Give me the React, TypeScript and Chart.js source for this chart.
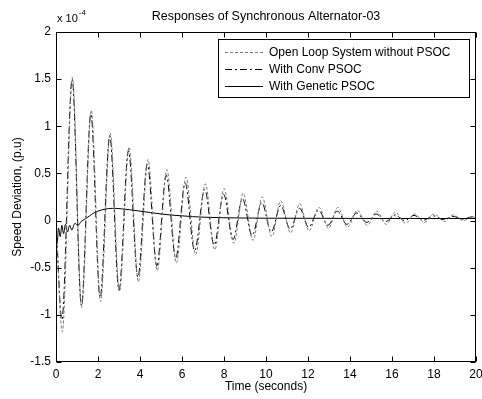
import React, { useEffect, useRef } from "react";
import { Chart, registerables } from "chart.js";
Chart.register(...registerables);

const FONT = '"Liberation Sans", Arial, Helvetica, sans-serif';

const chartTitle = "Responses of Synchronous Alternator-03";
const xTitle = "Time (seconds)";
const yTitle = "Speed Deviation, (p.u)";
const seriesNames = ["Open Loop System without PSOC", "With Conv PSOC", "With Genetic PSOC"];

const xTicks = [0, 2, 4, 6, 8, 10, 12, 14, 16, 18, 20];
const yTicks = [-1.5, -1, -0.5, 0, 0.5, 1, 1.5, 2];

// Open loop (grey dotted) – extremes (units of 1e-4)
const openT = [0, 0.3, 0.78, 1.22, 1.68, 2.12, 2.58, 3.02, 3.48, 3.92, 4.38, 4.82, 5.28, 5.73, 6.19, 6.65, 7.11, 7.56, 8.0, 8.47, 8.91, 9.38, 9.82, 10.28, 10.7, 11.17, 11.6, 12.05, 12.52, 12.98, 13.42, 13.88, 14.35, 14.82, 15.28, 15.72, 16.15, 16.65, 17.07, 17.55, 18.0, 18.5, 18.92, 19.4, 19.85, 20];
const openV = [0, -1.18, 1.52, -0.92, 1.17, -0.86, 0.93, -0.75, 0.78, -0.65, 0.65, -0.53, 0.54, -0.45, 0.46, -0.36, 0.39, -0.31, 0.34, -0.24, 0.29, -0.21, 0.25, -0.17, 0.21, -0.13, 0.18, -0.11, 0.14, -0.08, 0.14, -0.07, 0.11, -0.05, 0.1, -0.04, 0.09, -0.03, 0.07, -0.02, 0.07, -0.01, 0.06, 0.0, 0.04, 0.02];

// Conventional PSOC (black dash-dot)
const convT = [0, 0.28, 0.77, 1.21, 1.66, 2.1, 2.56, 3.0, 3.45, 3.9, 4.35, 4.8, 5.25, 5.7, 6.15, 6.6, 7.08, 7.53, 7.98, 8.43, 8.88, 9.34, 9.8, 10.25, 10.7, 11.15, 11.6, 12.03, 12.5, 12.95, 13.4, 13.85, 14.32, 14.8, 15.25, 15.7, 16.15, 16.6, 17.05, 17.5, 17.98, 18.45, 18.9, 19.38, 19.83, 20];
const convV = [0, -1.05, 1.5, -0.9, 1.13, -0.82, 0.9, -0.74, 0.74, -0.6, 0.6, -0.48, 0.48, -0.4, 0.4, -0.32, 0.33, -0.26, 0.28, -0.2, 0.23, -0.16, 0.19, -0.12, 0.16, -0.09, 0.13, -0.07, 0.11, -0.05, 0.1, -0.04, 0.08, -0.02, 0.07, -0.01, 0.06, 0.0, 0.055, 0.005, 0.05, 0.01, 0.045, 0.015, 0.04, 0.03];

// Genetic PSOC (solid black)
const genT = [0, 0.05, 0.12, 0.2, 0.28, 0.36, 0.45, 0.55, 0.65, 0.75, 0.9, 1.05, 1.2, 1.4, 1.6, 1.8, 2.0, 2.3, 2.7, 3.1, 3.5, 4.0, 4.5, 5.0, 5.5, 6.0, 6.5, 7.0, 8.0, 9.0, 10, 12, 14, 16, 18, 20];
const genV = [0, -0.25, -0.08, -0.17, -0.05, -0.14, -0.04, -0.12, -0.05, -0.1, -0.03, -0.05, -0.01, 0.02, 0.05, 0.08, 0.1, 0.12, 0.13, 0.125, 0.115, 0.1, 0.085, 0.07, 0.058, 0.05, 0.042, 0.036, 0.03, 0.027, 0.025, 0.024, 0.023, 0.022, 0.022, 0.022];

const toPts = (t: number[], v: number[]) => t.map((x, i) => ({ x, y: v[i] }));

const styles = [
  { color: "#777777", dash: [3, 2] },
  { color: "#000000", dash: [7, 3, 2, 3] },
  { color: "#000000", dash: [] as number[] },
];

const matlabPlugin = {
  id: "matlab",
  afterDraw(chart: any) {
    const ctx = chart.ctx as CanvasRenderingContext2D;
    const a = chart.chartArea;
    const xs = chart.scales.x;
    const ys = chart.scales.y;
    ctx.save();
    ctx.strokeStyle = "#000";
    ctx.lineWidth = 1;
    ctx.setLineDash([]);
    const L = Math.round(a.left) + 0.5, R = Math.round(a.right) - 0.5;
    const T = Math.round(a.top) + 0.5, B = Math.round(a.bottom) - 0.5;
    ctx.strokeRect(L, T, R - L, B - T);
    ctx.beginPath();
    for (const v of xTicks) {
      const px = Math.round(xs.getPixelForValue(v)) + 0.5;
      ctx.moveTo(px, B); ctx.lineTo(px, B - 5);
      ctx.moveTo(px, T); ctx.lineTo(px, T + 5);
    }
    for (const v of yTicks) {
      const py = Math.round(ys.getPixelForValue(v)) + 0.5;
      ctx.moveTo(L, py); ctx.lineTo(L + 5, py);
      ctx.moveTo(R, py); ctx.lineTo(R - 5, py);
    }
    ctx.stroke();

    // title
    ctx.fillStyle = "#000";
    ctx.font = `12.5px ${FONT}`;
    ctx.textAlign = "center";
    ctx.textBaseline = "middle";
    ctx.fillText(chartTitle, (a.left + a.right) / 2, 17);
    // exponent
    ctx.textAlign = "left";
    ctx.font = `11px ${FONT}`;
    ctx.fillText("x 10", 57, 19);
    const w = ctx.measureText("x 10").width;
    ctx.font = `8px ${FONT}`;
    ctx.fillText("-4", 57 + w + 1, 13);

    // legend
    const lx = 218.5, ly = 39.5, lw = 251, lh = 58;
    ctx.fillStyle = "#fff";
    ctx.fillRect(lx, ly, lw, lh);
    ctx.strokeStyle = "#000";
    ctx.strokeRect(lx, ly, lw, lh);
    ctx.font = `12px ${FONT}`;
    seriesNames.forEach((name, i) => {
      const y = Math.round(ly + 12 + i * 17) + 0.5;
      ctx.strokeStyle = styles[i].color;
      ctx.setLineDash(styles[i].dash);
      ctx.beginPath();
      ctx.moveTo(225, y);
      ctx.lineTo(263, y);
      ctx.stroke();
      ctx.setLineDash([]);
      ctx.fillStyle = "#000";
      ctx.textAlign = "left";
      ctx.textBaseline = "middle";
      ctx.fillText(name, 269, y);
    });
    ctx.restore();
  },
};

export default function App() {
  const ref = useRef<HTMLCanvasElement>(null);
  useEffect(() => {
    const series = [toPts(openT, openV), toPts(convT, convV), toPts(genT, genV)];
    const chart = new Chart(ref.current as HTMLCanvasElement, {
      type: "line",
      data: {
        datasets: series.map((d, i) => ({
          label: seriesNames[i],
          data: d,
          borderColor: styles[i].color,
          borderDash: styles[i].dash,
          borderWidth: 1,
          pointRadius: 0,
          fill: false,
          cubicInterpolationMode: "monotone" as const,
        })),
      },
      options: {
        animation: false,
        responsive: false,
        events: [],
        layout: { padding: { top: 32, right: 6, left: 0, bottom: 0 } },
        plugins: { legend: { display: false }, tooltip: { enabled: false }, title: { display: false } },
        scales: {
          x: {
            type: "linear",
            min: 0,
            max: 20,
            afterBuildTicks: (s: any) => { s.ticks = xTicks.map((value) => ({ value })); },
            afterFit: (s: any) => { s.height = 37; s.paddingLeft = 0; s.paddingRight = 0; },
            grid: { display: false, drawTicks: false },
            border: { display: false },
            ticks: { color: "#000", font: { family: FONT, size: 12 }, padding: 5, maxRotation: 0, autoSkip: false, callback: (v: any) => String(v) },
            title: { display: true, text: xTitle, color: "#000", font: { family: FONT, size: 12 }, padding: { top: 0, bottom: 5 } },
          },
          y: {
            type: "linear",
            min: -1.5,
            max: 2,
            afterBuildTicks: (s: any) => { s.ticks = yTicks.map((value) => ({ value })); },
            afterFit: (s: any) => { s.width = 56; s.paddingTop = 0; s.paddingBottom = 0; },
            grid: { display: false, drawTicks: false },
            border: { display: false },
            ticks: { color: "#000", font: { family: FONT, size: 12 }, padding: 5, autoSkip: false, callback: (v: any) => String(v) },
            title: { display: true, text: yTitle, color: "#000", font: { family: FONT, size: 12 }, padding: { top: 10, bottom: 0 } },
          },
        },
      },
      plugins: [matlabPlugin],
    });
    return () => chart.destroy();
  }, []);
  return (
    <div style={{ position: "absolute", left: 0, top: 0, width: 482, height: 399, background: "#fff" }}>
      <canvas ref={ref} width={482} height={399} style={{ display: "block", width: 482, height: 399 }} />
    </div>
  );
}
